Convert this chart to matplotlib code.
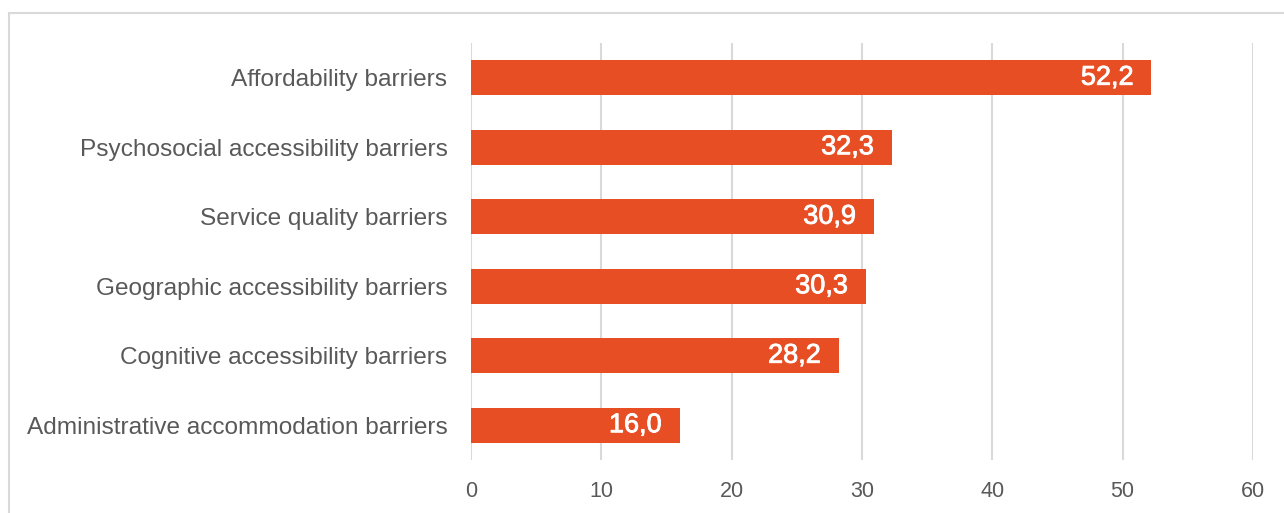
import matplotlib
matplotlib.use("Agg")
import matplotlib.pyplot as plt
import matplotlib.patheffects as pe
from matplotlib.patches import Rectangle

categories = [
    "Affordability barriers",
    "Psychosocial accessibility barriers",
    "Service quality barriers",
    "Geographic accessibility barriers",
    "Cognitive accessibility barriers",
    "Administrative accommodation barriers",
]
values = [52.2, 32.3, 30.9, 30.3, 28.2, 16.0]
x_ticks = [0, 10, 20, 30, 40, 50, 60]

W, H = 1284, 513
dpi = 100
plt.rcParams["font.family"] = ["Liberation Sans", "DejaVu Sans"]
fig = plt.figure(figsize=(W / dpi, H / dpi), dpi=dpi)

# outer frame
fig.patches.append(Rectangle((9 / W, -0.1), 1.2, (H - 13) / H + 0.1,
                             transform=fig.transFigure, fill=False,
                             edgecolor="#D9D9D9", linewidth=1.5))

left, right = 471 / W, 1253 / W
top, bottom = 1 - 43 / H, 1 - 460 / H
ax = fig.add_axes([left, bottom, right - left, top - bottom])

bar_color = "#E84E24"
ypos = list(range(len(categories)))
ax.barh(ypos, values, height=0.5, color=bar_color, zorder=3)
for y, v in zip(ypos, values):
    ax.text(v - 1.35, y, f"{v:.1f}".replace(".", ","), ha="right", va="center",
            color="white", fontsize=19.5, zorder=4,
            path_effects=[pe.withStroke(linewidth=0.6, foreground="white")])

ax.set_xlim(0, 60)
ax.set_ylim(len(categories) - 0.5, -0.5)
ax.set_xticks(x_ticks)
ax.set_yticks(ypos)
ax.set_yticklabels(categories)
ax.grid(axis="x", color="#D9D9D9", linewidth=1.5, zorder=0)
for s in ax.spines.values():
    s.set_visible(False)
ax.tick_params(axis="both", length=0, colors="#595959")
ax.tick_params(axis="y", labelsize=17.6, pad=17)
ax.tick_params(axis="x", labelsize=15.5, pad=15)

fig.savefig("out.png", dpi=dpi)
